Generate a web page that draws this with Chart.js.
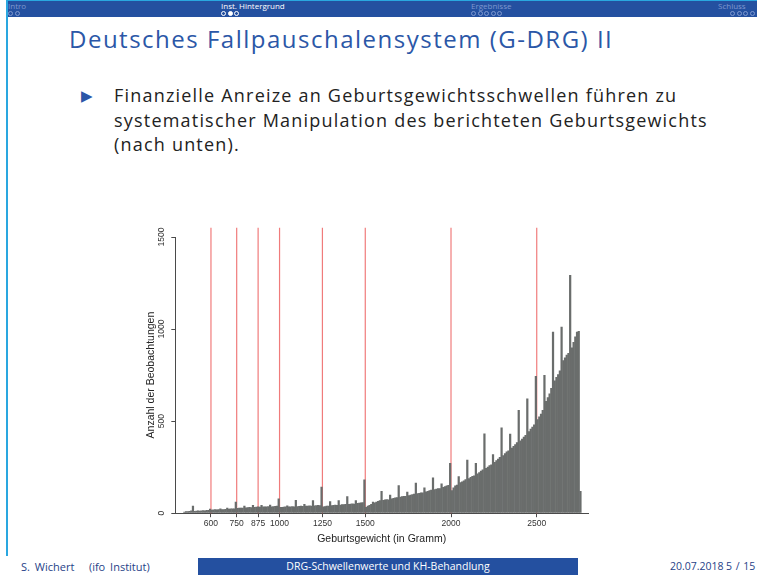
<!DOCTYPE html>
<html>
<head>
<meta charset="utf-8">
<script src="https://cdn.jsdelivr.net/npm/chart.js@4"></script>
<style>
  html, body { margin: 0; padding: 0; background: #fff; }
  body { width: 757px; height: 575px; position: relative; overflow: hidden; font-family: "Open Sans", sans-serif; }
  .frame-left { position: absolute; left: 6px; top: 0; width: 2px; height: 556px; background: #2aa7e0; }
  .frame-top { position: absolute; left: 6px; top: 0; width: 751px; height: 1px; background: #2aa7e0; }
  .hdr { position: absolute; left: 8px; top: 1px; width: 749px; height: 16px; background: #2450a0; }
  .hdr .sec { position: absolute; top: 0px; font-size: 8px; line-height: 10px; color: #7f98cf; white-space: nowrap; }
  .hdr .sec.cur { color: #fff; }
  .hdr .dots { position: absolute; top: 10px; height: 5px; white-space: nowrap; font-size: 0; }
  .dot { display: inline-block; width: 3px; height: 3px; border: 1px solid #7f98cf; border-radius: 50%; margin-right: 1.5px; }
  .dots.cur .dot { border-color: #fff; }
  .dot.on { background: #fff; }
  .title { position: absolute; left: 69px; top: 22px; font-size: 24px; letter-spacing: 1.5px; color: #2b57a7; white-space: nowrap; }
  .bullet { position: absolute; left: 81px; top: 85px; font-size: 15px; color: #2b57a7; }
  .text { position: absolute; left: 114px; top: 83px; font-size: 18px; letter-spacing: 1.2px; line-height: 24.5px; color: #222; white-space: nowrap; }
  #wrap { position: absolute; left: 128px; top: 215px; width: 472px; height: 340px; }
  .foot { position: absolute; top: 558px; height: 17px; font-size: 10.5px; line-height: 17px; color: #1f3f88; white-space: nowrap; }
  .foot.box { left: 198px; width: 380px; background: #2450a0; color: #fff; text-align: center; }
</style>
</head>
<body>
<div class="frame-top"></div>
<div class="frame-left"></div>
<div class="hdr">
  <div class="sec" style="left:0px">Intro</div>
  <div class="dots" style="left:0px"><span class="dot"></span><span class="dot"></span></div>
  <div class="sec cur" style="left:213px">Inst. Hintergrund</div>
  <div class="dots cur" style="left:213px"><span class="dot"></span><span class="dot on"></span><span class="dot"></span></div>
  <div class="sec" style="left:463px">Ergebnisse</div>
  <div class="dots" style="left:463px"><span class="dot"></span><span class="dot"></span><span class="dot"></span><span class="dot"></span><span class="dot"></span></div>
  <div class="sec" style="left:710px">Schluss</div>
  <div class="dots" style="left:722px"><span class="dot"></span><span class="dot"></span><span class="dot"></span><span class="dot"></span></div>
</div>

<div class="title">Deutsches Fallpauschalensystem (G-DRG) II</div>
<div class="bullet">&#9654;</div>
<div class="text">Finanzielle Anreize an Geburtsgewichtsschwellen führen zu<br>systematischer Manipulation des berichteten Geburtsgewichts<br>(nach unten).</div>

<div id="wrap"><canvas id="histo"></canvas></div>

<div class="foot" style="left:21px; font-size:11px; word-spacing:2px">S. Wichert&nbsp;&nbsp; (ifo Institut)</div>
<div class="foot box">DRG-Schwellenwerte und KH-Behandlung</div>
<div class="foot" style="left:670px">20.07.2018</div>
<div class="foot" style="left:726px; word-spacing:1px">5 / 15</div>

<script>
// histogram bins: 10 g wide, first bin starts at 440 g
var binStart = 440;
var binWidth = 10;
var counts = [
  8, 10, 11, 12, 14, 40,                               // 440-499
  12, 13, 14, 13, 15, 16, 15, 17, 18, 24,              // 500
  19, 20, 21, 20, 22, 26, 21, 22, 23, 30,              // 600
  24, 25, 26, 25, 62, 28, 29, 30, 29, 40,              // 700
  31, 32, 33, 32, 45, 34, 35, 36, 35, 44,              // 800
  36, 37, 36, 38, 46, 37, 38, 39, 40, 80,              // 900
  33, 34, 35, 36, 42, 36, 37, 38, 37, 72,              // 1000
  38, 39, 40, 39, 50, 40, 41, 42, 41, 71,              // 1100
  42, 43, 44, 43, 143, 37, 38, 40, 41, 65,             // 1200
  43, 44, 46, 45, 71, 46, 48, 49, 50, 92,              // 1300
  50, 52, 53, 52, 71, 55, 57, 58, 60, 183,             // 1400
  34, 40, 45, 50, 62, 58, 62, 66, 70, 121,             // 1500
  72, 74, 76, 75, 100, 80, 83, 85, 87, 152,            // 1600
  90, 92, 94, 93, 116, 98, 100, 103, 105, 165,         // 1700
  108, 110, 113, 112, 140, 118, 121, 124, 127, 194,    // 1800
  130, 133, 136, 135, 161, 142, 146, 150, 153, 273,    // 1900
  125, 140, 150, 155, 200, 168, 172, 178, 185, 290,    // 2000
  190, 196, 202, 205, 273, 215, 222, 230, 238, 433,    // 2100
  245, 252, 260, 265, 320, 278, 287, 296, 305, 465,    // 2200
  315, 325, 335, 340, 431, 355, 365, 375, 385, 560,    // 2300
  395, 405, 415, 425, 623, 445, 458, 470, 482, 745,    // 2400
  510, 525, 540, 560, 750, 610, 630, 650, 680, 986,    // 2500
  720, 740, 755, 775, 1013, 830, 845, 860, 870, 1293,  // 2600
  900, 930, 960, 985, 990, 120                         // 2700-2759
];
var thresholds = [600, 750, 875, 1000, 1250, 1500, 2000, 2500];
var xTickValues = [600, 750, 875, 1000, 1250, 1500, 2000, 2500];
var yTickValues = [0, 500, 1000, 1500];
var xMin = 392, xMax = 2799;
var yMax = 1500;
var thresholdTop = 1550;

var barPoints = counts.map(function(c, i) { return { x: binStart + binWidth * (i + 0.5), y: c }; });

var datasets = [{
  type: 'bar', data: barPoints, backgroundColor: '#6a6d6c', borderWidth: 0,
  barPercentage: 1.3, categoryPercentage: 1, order: 1
}];
thresholds.forEach(function(t) {
  datasets.push({
    type: 'line', data: [{ x: t, y: 0 }, { x: t, y: thresholdTop }],
    borderColor: 'rgba(236,90,90,0.8)', borderWidth: 1.2, pointRadius: 0, clip: false, order: 2
  });
});

var axisColor = '#4a4a4a';
var plain = function(v) { return String(v); };
new Chart(document.getElementById('histo'), {
  type: 'bar',
  data: { datasets: datasets },
  options: {
    responsive: true, maintainAspectRatio: false, animation: false,
    layout: { padding: { top: 22, right: 12, left: 17, bottom: 10 } },
    plugins: { legend: { display: false }, tooltip: { enabled: false } },
    scales: {
      x: {
        type: 'linear', min: xMin, max: xMax, offset: false,
        afterBuildTicks: function(axis) { axis.ticks = xTickValues.map(function(v) { return { value: v }; }); },
        ticks: { autoSkip: false, maxRotation: 0, padding: 1, color: '#333', callback: plain, font: { family: 'Liberation Sans', size: 8.5 } },
        grid: { display: true, offset: false, drawOnChartArea: false, tickLength: 4, color: axisColor },
        border: { display: true, color: axisColor, width: 1 },
        title: { display: true, text: 'Geburtsgewicht (in Gramm)', color: '#222', padding: { top: 3, bottom: 0 }, font: { family: 'Liberation Sans', size: 10.5 } }
      },
      y: {
        min: 0, max: yMax,
        afterBuildTicks: function(axis) { axis.ticks = yTickValues.map(function(v) { return { value: v }; }); },
        ticks: { minRotation: 90, maxRotation: 90, crossAlign: 'center', padding: 0, color: '#333', callback: plain, font: { family: 'Liberation Sans', size: 8.5 } },
        grid: { display: true, offset: false, drawOnChartArea: false, tickLength: 4, color: axisColor },
        border: { display: true, color: axisColor, width: 1 },
        title: { display: true, text: 'Anzahl der Beobachtungen', color: '#222', padding: { top: 0, bottom: 3.5 }, font: { family: 'Liberation Sans', size: 10.5 } }
      }
    }
  }
});
</script>
</body>
</html>
